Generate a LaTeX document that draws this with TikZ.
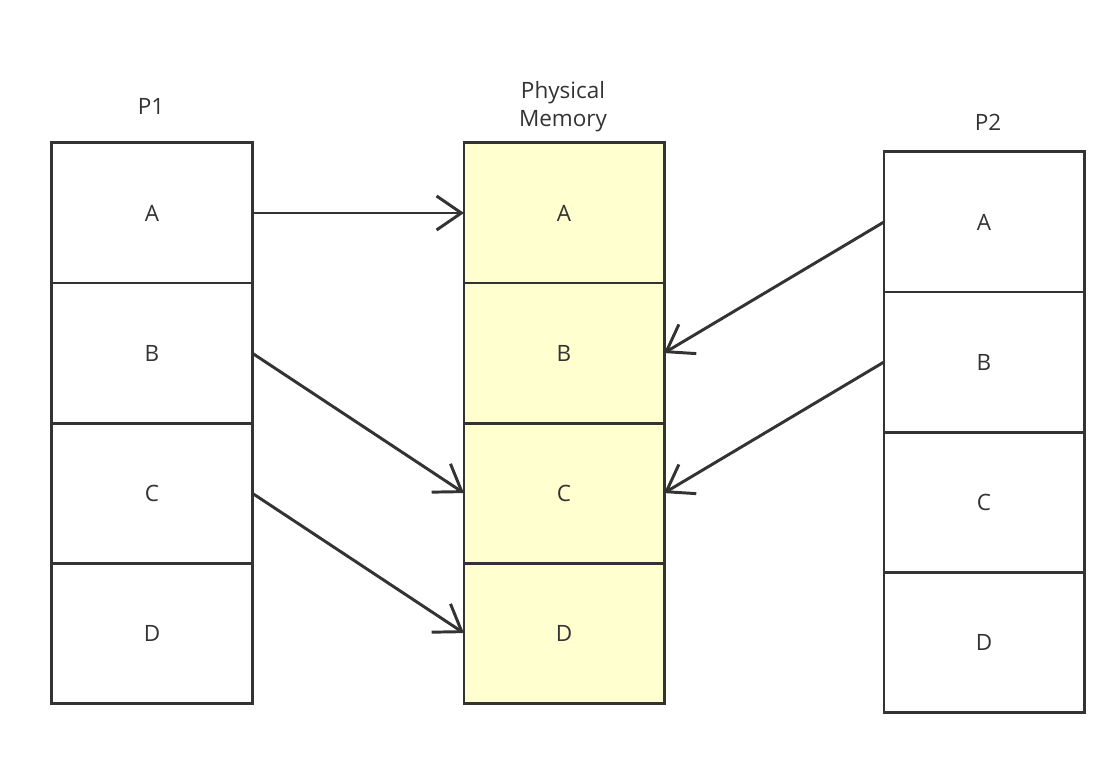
\documentclass[tikz,border=0pt]{standalone}
\usepackage{fontspec}
\setmainfont{Open Sans}
\usepackage{xcolor}
\usepackage{tikz}
\usetikzlibrary{arrows.meta, positioning}
\definecolor{lineGrey}{RGB}{51, 51, 51}
\definecolor{memYellow}{RGB}{255, 255, 208}

\begin{document}
\begin{tikzpicture}[
  x=0.025cm, y=-0.025cm,
  node distance=0pt,
  cell/.style={rectangle, draw=lineGrey, line width=2.1pt, fill=white,
               minimum width=5cm, minimum height=3.5cm, inner sep=0pt, outer sep=0pt,
               font=\fontsize{16}{20}\selectfont, text=lineGrey},
  memcell/.style={cell, fill=memYellow},
  title/.style={align=center, font=\fontsize{16}{20}\selectfont, text=lineGrey},
  arr/.style={-{Straight Barb[length=0.62cm, width=0.85cm]}, line width=2.1pt, lineGrey}
]
\useasboundingbox (0,0) rectangle (1120,766);

% P1
\node[cell] (p1a) at (152,213) {A};
\node[cell, below=of p1a] (p1b) {B};
\node[cell, below=of p1b] (p1c) {C};
\node[cell, below=of p1c] (p1d) {D};
\node[title] (p1t) at (151,106) {P1};

% Physical memory
\node[memcell] (mema) at (564,213) {A};
\node[memcell, below=of mema] (memb) {B};
\node[memcell, below=of memb] (memc) {C};
\node[memcell, below=of memc] (memd) {D};
\node[title] (memt) at (563,107) {Physical\\Memory};

% P2
\node[cell] (p2a) at (984,222) {A};
\node[cell, below=of p2a] (p2b) {B};
\node[cell, below=of p2b] (p2c) {C};
\node[cell, below=of p2c] (p2d) {D};
\node[title] (p2t) at (988,122) {P2};

\draw[arr] (p1a.east) -- (mema.west);
\draw[arr] (p1b.east) -- (memc.west);
\draw[arr] (p1c.east) -- (memd.west);
\draw[arr] (p2a.west) -- (memb.east);
\draw[arr] (p2b.west) -- (memc.east);
\end{tikzpicture}
\end{document}
